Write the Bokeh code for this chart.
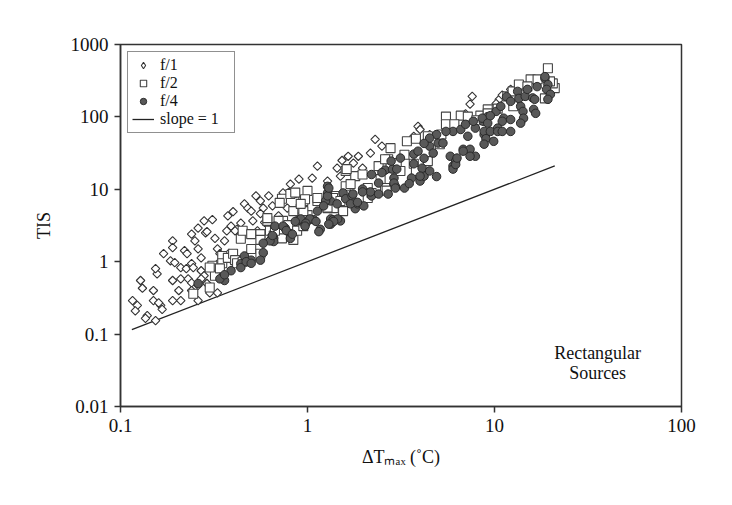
from bokeh.plotting import figure
from bokeh.models import FixedTicker, CustomJSTickFormatter, Label, LegendItem, Legend
from bokeh.embed import file_html
from bokeh.resources import INLINE

# ---- data ----
f1_x = [0.116,0.123,0.12,0.128,0.131,0.139,0.136,0.154,0.15,0.15,0.164,0.167,0.16,0.157,0.154,0.17,0.19,0.19,0.185,0.195,
        0.19,0.19,0.205,0.21,0.21,0.22,0.227,0.24,0.26,0.285,0.25,0.26,0.27,0.24,0.225,0.245,0.21,0.23,0.24,0.27,
        0.28,0.26,0.24,0.26,0.27,0.32,0.33,0.34,0.29,0.30,0.33,0.34,
        0.28,0.31,0.29,0.36,0.375,0.40,0.39,0.44,0.42,0.46,0.48,0.53,0.62,0.56,0.58,0.51,0.59,0.70,0.73,0.81,0.90,0.78,
        0.65,0.74,0.37,0.41,0.38,0.34,0.40,0.54,0.56,0.50,
        1.13,1.06,1.44,1.53,1.65,1.87,1.76,1.5,1.97,2.17,2.3,2.5,1.28,
        3.9,4.0,3.7,4.5,7.6,7.4,12.2,10.6,7.0,11.0,10.2]
f1_y = [0.29,0.25,0.21,0.55,0.43,0.18,0.165,0.154,0.40,0.29,0.25,0.22,0.27,0.68,0.80,1.29,1.94,1.56,1.03,0.97,
        0.55,0.29,0.40,0.29,0.83,1.42,1.29,2.4,2.9,2.5,1.94,1.5,1.13,0.94,0.80,0.83,0.58,0.58,0.51,0.75,
        0.64,0.47,0.40,0.29,0.58,2.1,1.5,0.94,0.50,0.37,0.37,1.29,
        3.66,3.8,2.6,1.94,4.3,4.9,3.1,3.4,2.8,6.3,5.5,8.1,8.1,6.9,5.5,3.66,3.5,4.3,8.1,11.8,13.8,5.5,
        5.9,8.9,2.67,2.67,1.3,1.0,1.0,2.67,4.6,5.0,
        20.9,14.3,19.6,25,28.6,28.6,23,15.2,19.6,31.6,49,39.4,13,
        74,67,54,57,192,150,240,175,110,200,153]

f2_x = [0.31,0.32,0.30,0.245,0.35,0.35,0.30,0.34,0.375,0.40,0.44,0.45,0.50,0.50,0.56,0.61,0.63,0.66,0.73,0.73,
        0.74,0.83,0.84,0.92,1.0,0.95,1.13,1.28,1.35,1.4,1.6,0.41,0.42,0.45,0.56,0.56,0.65,0.67,0.61,0.70,
        0.71,0.81,0.84,0.79,0.88,0.95,1.0,0.86,0.97,0.95,0.92,1.13,1.37,1.38,1.28,1.6,1.8,2.1,2.1,2.4,
        2.46,2.6,2.65,2.7,2.78,3.0,2.78,2.6,3.3,3.7,3.14,3.8,4.4,4.4,5.2,5.5,6.6,7.2,8.4,9.2,
        5.5,6.1,5.1,8.0,9.2,11.7,12.5,13.5,15.6,17,19.3,18.6,21,20.5,19.8,12.6,10.4,15,1.62,
        3.4,3.8,1.97,1.7,1.5,1.55,2.2]
f2_y = [0.88,0.64,0.44,0.36,1.2,0.95,0.83,0.81,1.13,1.29,2.07,2.67,1.5,2.4,2.4,3.66,2.67,2.3,7.4,2.1,
        3.66,8.9,2.0,5.4,9.5,6.9,6.9,5.5,5.9,8.1,11,1.05,0.95,1.0,1.29,2.0,2.07,2.67,4.0,3.66,
        6.5,8.6,5.0,3.2,2.67,3.1,4.4,9,7.3,5.0,6.3,7.6,7.6,5.5,5.6,17.9,15.2,10.4,7.6,20.9,
        13.8,10.4,9.6,26,19.6,23,37,26,30,22.5,17.9,17.9,24.5,54,57,101,104,101,104,127,
        79,79,42,90,112,192,225,280,330,330,470,180,250,290,310,140,130,264,19,
        46,50,16,11.8,6.9,5.0,8.9]

f4_x = [0.26,0.35,0.36,0.39,0.46,0.50,0.44,0.58,0.66,0.66,0.63,0.76,0.81,0.92,1.0,1.08,1.17,1.15,1.33,1.5,
        1.55,1.28,1.33,1.28,1.44,1.6,0.44,0.47,0.50,0.56,0.58,0.65,0.67,0.74,0.77,0.81,0.83,0.88,0.92,1.03,
        0.98,0.86,1.11,0.97,1.13,1.25,1.28,1.3,1.22,1.37,1.45,1.33,1.73,1.8,1.85,1.97,2.0,2.2,2.2,2.4,
        2.4,2.6,2.7,2.9,2.85,3.0,2.95,2.9,2.95,3.3,3.6,4.0,4.2,3.7,3.9,4.2,4.5,4.7,5.0,5.3,
        5.8,6.2,6.0,6.8,7.4,7.9,6.0,6.6,7.0,7.2,7.9,8.7,8.8,9.2,5.5,4.9,4.5,4.2,3.7,2.5,
        3.14,2.8,4.1,7.7,8.6,9.2,10.2,10.8,11.2,11.0,10.4,11.6,12.2,13.3,13.5,13.8,14.2,14.6,15.0,16.0,
        16.2,16.6,16.9,18.6,19.3,19.0,19.9,19.3,8.8,9.5,10.4,11.0,12.2,9.0,9.9,8.8,3.5,2.17,1.97,1.7,
        1.85,1.75,1.38,1.3,6.0,6.2,6.3,4.9,4.5,4.0,6.8,7.4,14.3,13.8,12.2,9.5,16.4,18.6,0.34,0.36]
f4_y = [0.50,0.60,0.55,0.75,1.2,1.05,0.94,1.33,2.1,1.9,1.94,2.9,2.4,3.66,3.66,3.8,2.8,2.6,3.9,3.66,
        8.9,8.9,6.9,11,6.3,7.4,0.83,1.0,0.95,1.05,1.8,2.3,3.1,3.1,2.7,2.1,2.4,3.66,3.9,3.9,
        3.4,3.6,3.6,3.1,5.0,6.9,8.1,10.4,5.9,3.8,3.9,3.3,8.1,5.4,6.3,10.1,5.9,16,8.1,12.2,
        8.6,18.4,8.6,14.3,19,19,11,12.2,10.4,10.4,14.3,13,15.2,30.6,33.6,26.8,39.4,31.6,43.5,43.5,
        28.6,24.5,20.9,35.7,35.7,28.6,63,67,79,54,70,87,57,101,63,57,51,43,22.5,17,
        27,24.5,19.6,87,96,82,119,140,96,87,70,190,164,225,180,140,119,192,240,183,
        127,112,262,340,280,240,205,175,63,63,63,63,63,50,46,42,12,9.2,9.2,6.3,
        6.6,8.6,3.6,3.3,19,22,27,15,17.9,15.2,33.6,28.6,96,82,92,104,175,360,0.58,0.66]

slope_x = [0.115, 21]
slope_y = [0.115, 21]

x_ticks = [0.1, 1, 10, 100]
y_ticks = [0.01, 0.1, 1, 10, 100, 1000]

SERIF = "Liberation Serif"

p = figure(width=716, height=489, x_axis_type="log", y_axis_type="log",
           x_range=(0.1, 100), y_range=(0.01, 1000),
           output_backend="svg", toolbar_location=None,
           min_border_left=120, min_border_right=35, min_border_top=44, min_border_bottom=83)

p.xgrid.visible = False
p.ygrid.visible = False
p.background_fill_color = "white"
p.border_fill_color = "white"
p.outline_line_color = "#333333"
p.outline_line_width = 1.5
p.outline_line_alpha = 1.0

fmt = CustomJSTickFormatter(code="return tick.toString();")
for ax, ticks in ((p.xaxis[0], x_ticks), (p.yaxis[0], y_ticks)):
    ax.ticker = FixedTicker(ticks=ticks, minor_ticks=[])
    ax.formatter = fmt
    ax.axis_line_color = "#333333"
    ax.axis_line_width = 1.5
    ax.major_tick_line_color = "#333333"
    ax.major_tick_line_width = 1.5
    ax.major_tick_in = 0
    ax.major_tick_out = 6
    ax.minor_tick_line_color = None
    ax.major_label_text_font = SERIF
    ax.major_label_text_font_size = "19px"
    ax.major_label_text_color = "#111111"
    ax.major_label_standoff = 6

for ax, lab in ((p.yaxis[0], "TIS"), (p.xaxis[0], "ΔTₘₐₓ (˚C)")):
    ax.axis_label = lab
    ax.axis_label_text_font = SERIF
    ax.axis_label_text_font_size = "18px"
    ax.axis_label_text_font_style = "normal"
    ax.axis_label_text_color = "#111111"
p.yaxis.axis_label_standoff = 14
p.xaxis.axis_label_standoff = 12

# slope line
rl = p.line(slope_x, slope_y, line_color="#222222", line_width=1.3)

# legend proxy for the diamond marker (legend glyphs ignore rotation); zero size on the plot
r1_leg = p.scatter(f1_x, f1_y, marker="diamond", size=0, fill_color="white",
                   line_color="#333333", line_width=1.1)
# series
r1 = p.scatter(f1_x, f1_y, marker="square", angle=0.785398, size=6, fill_color="white",
               line_color="#333333", line_width=1.1)
r2 = p.scatter(f2_x, f2_y, marker="square", size=9, fill_color="white",
               line_color="#444444", line_width=1.1)
r3 = p.scatter(f4_x, f4_y, marker="circle", size=8.5, fill_color="#595959",
               line_color="#2a2a2a", line_width=1.0)

leg = Legend(items=[LegendItem(label="f/1", renderers=[r1_leg]),
                    LegendItem(label="f/2", renderers=[r2]),
                    LegendItem(label="f/4", renderers=[r3]),
                    LegendItem(label="slope = 1", renderers=[rl])])
leg.location = "top_left"
leg.margin = 7
leg.padding = 4
leg.spacing = 0
leg.label_height = 15
leg.glyph_height = 16
leg.glyph_width = 22
leg.label_width = 70
leg.label_standoff = 6
leg.label_text_font = SERIF
leg.label_text_font_size = "16px"
leg.label_text_color = "#111111"
leg.border_line_color = "#222222"
leg.border_line_width = 1.3
leg.background_fill_alpha = 1.0
p.add_layout(leg, "center")

# annotation text
lab_kw = dict(x_units="data", y_units="data", text_font=SERIF, text_color="#111111",
              text_baseline="middle", text_align="center", text_font_size="18px")
p.add_layout(Label(x=35.6, y=0.054, text="Rectangular", **lab_kw))
p.add_layout(Label(x=35.6, y=0.0286, text="Sources", **lab_kw))

open("out.html", "w").write(file_html(p, INLINE))
